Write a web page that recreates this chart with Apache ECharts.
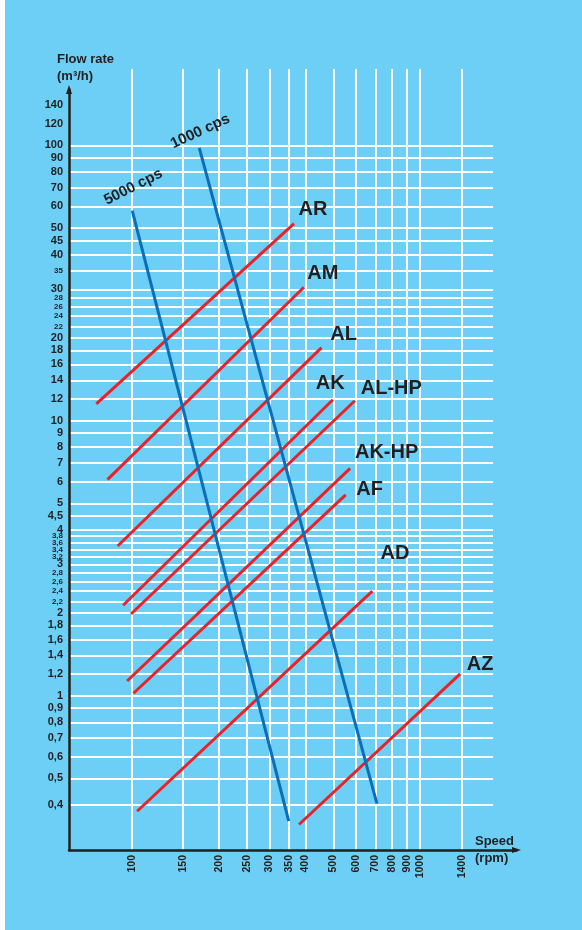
<!DOCTYPE html>
<html>
<head>
<meta charset="utf-8">
<script src="https://cdn.jsdelivr.net/npm/echarts@6/dist/echarts.min.js"></script>
<style>
html,body{margin:0;padding:0;background:#ffffff;}
#c{width:582px;height:930px;background:linear-gradient(to right,#ffffff 0,#ffffff 5px,#6dcff6 5px,#6dcff6 100%);}
</style>
</head>
<body>
<div id="c"></div>
<script>
// ---------- data ----------
const speedTicks = [100, 150, 200, 250, 300, 350, 400, 500, 600, 700, 800, 900, 1000, 1400];
const flowGridTicks = [0.4, 0.5, 0.6, 0.7, 0.8, 0.9, 1, 1.2, 1.4, 1.6, 1.8, 2, 2.2, 2.4, 2.6, 2.8, 3, 3.2, 3.4, 3.6, 3.8, 4, 4.5, 5, 6, 7, 8, 9, 10, 12, 14, 16, 18, 20, 22, 24, 26, 28, 30, 35, 40, 45, 50, 60, 70, 80, 90, 100];
const flowExtraLabels = [120, 140];
const smallFlowLabels = [2.2, 2.4, 2.6, 2.8, 3.2, 3.4, 3.6, 3.8, 22, 24, 26, 28, 35];

// pump curves: [speed rpm, flow m3/h]
const curveAR   = [[75, 11.5], [365, 52]];
const curveAM   = [[82, 6.1], [395, 30.5]];
const curveAL   = [[89, 3.5], [455, 18.4]];
const curveAK   = [[93, 2.13], [498, 11.9]];
const curveALHP = [[99, 1.98], [594, 11.8]];
const curveAKHP = [[96, 1.13], [572, 6.7]];
const curveAF   = [[101, 1.02], [552, 5.37]];
const curveAD   = [[104, 0.38], [683, 2.4]];
const curveAZ   = [[380, 0.34], [1380, 1.2]];

// viscosity limit lines
const visc5000 = [[100, 58], [350, 0.35]];
const visc1000 = [[171, 98], [709, 0.405]];

// ---------- styling ----------
const FONT = '"Liberation Sans", Arial, Helvetica, sans-serif';
const INK = '#231f20';
const RED = '#ea2228';
const BLUE = '#0b6fb8';

const pumpCurves = [
  {name: 'AR', data: curveAR, off: [19, -14]},
  {name: 'AM', data: curveAM, off: [19, -13.5]},
  {name: 'AL', data: curveAL, off: [22, -13]},
  {name: 'AK', data: curveAK, off: [-2.5, -16]},
  {name: 'AL-HP', data: curveALHP, off: [36.5, -12.5]},
  {name: 'AK-HP', data: curveAKHP, off: [36.5, -15.7]},
  {name: 'AF', data: curveAF, off: [24, -5]},
  {name: 'AD', data: curveAD, off: [22.7, -37.8]},
  {name: 'AZ', data: curveAZ, off: [20, -9.5]}
];
const viscLines = [
  {name: '5000 cps', data: visc5000, off: [1, -23.5], rot: 27},
  {name: '1000 cps', data: visc1000, off: [1, -16.5], rot: 25}
];

function fmt(v) { return String(v).replace('.', ','); }
function isSmall(v) { return smallFlowLabels.some(s => Math.abs(s - v) < 1e-6); }
// label offsets are applied in the rotated text frame: convert a screen offset
function localOffset(off, deg) {
  const t = deg * Math.PI / 180, c = Math.cos(t), s = Math.sin(t);
  return [off[0] * c - off[1] * s, off[0] * s + off[1] * c];
}

const series = [];
pumpCurves.forEach(c => {
  series.push({
    type: 'line', name: c.name, xAxisIndex: 0, yAxisIndex: 0,
    data: c.data, symbol: 'none', showSymbol: false, silent: true,
    lineStyle: {color: RED, width: 3, cap: 'butt'},
    markPoint: {
      symbol: 'circle', symbolSize: 1, silent: true,
      itemStyle: {color: 'rgba(0,0,0,0)'},
      label: {show: true, position: 'inside', formatter: c.name, offset: c.off,
              fontSize: 20, fontWeight: 'bold', color: INK, fontFamily: FONT},
      data: [{coord: c.data[c.data.length - 1]}]
    }
  });
});
viscLines.forEach(c => {
  series.push({
    type: 'line', name: c.name, xAxisIndex: 0, yAxisIndex: 0,
    data: c.data, symbol: 'none', showSymbol: false, silent: true,
    lineStyle: {color: BLUE, width: 3, cap: 'butt'},
    markPoint: {
      symbol: 'circle', symbolSize: 1, silent: true,
      itemStyle: {color: 'rgba(0,0,0,0)'},
      label: {show: true, position: 'inside', formatter: c.name,
              offset: localOffset(c.off, c.rot), rotate: c.rot,
              fontSize: 15, fontWeight: 'bold', color: INK, fontFamily: FONT},
      data: [{coord: c.data[0]}]
    }
  });
});

const chart = echarts.init(document.getElementById('c'), null, {renderer: 'canvas'});
chart.setOption({
  backgroundColor: 'transparent',
  animation: false,
  textStyle: {fontFamily: FONT, color: INK},
  grid: [
    {left: 69, right: 89, top: 69, bottom: 80},
    {left: 69, right: 65.5, top: 89.5, bottom: 80}
  ],
  xAxis: [
    {
      type: 'log', gridIndex: 0, min: 60.28, max: 1795,
      axisLine: {show: false},
      axisTick: {show: false, customValues: speedTicks},
      axisLabel: {customValues: speedTicks, rotate: 90, margin: 5, fontSize: 10.5,
                  fontWeight: 'bold', color: INK, fontFamily: FONT,
                  formatter: v => String(Math.round(v))},
      splitLine: {show: true, lineStyle: {color: '#ffffff', width: 2}},
      minorTick: {show: false}, minorSplitLine: {show: false}
    },
    {
      type: 'value', gridIndex: 1, min: 0, max: 1,
      axisLine: {show: true, onZero: false, symbol: ['none', 'triangle'], symbolSize: [6, 9],
                 lineStyle: {color: INK, width: 2.5}},
      axisTick: {show: false}, axisLabel: {show: false}, splitLine: {show: false}
    }
  ],
  yAxis: [
    {
      type: 'log', gridIndex: 0, min: 0.2747, max: 189.6,
      axisLine: {show: false},
      axisTick: {show: false, customValues: flowGridTicks},
      axisLabel: {
        customValues: flowGridTicks.concat(flowExtraLabels), margin: 6,
        formatter: v => isSmall(v) ? '{s|' + fmt(v) + '}' : '{b|' + fmt(v) + '}',
        rich: {
          b: {fontSize: 11, fontWeight: 'bold', color: INK, fontFamily: FONT},
          s: {fontSize: 8, fontWeight: 'bold', color: INK, fontFamily: FONT}
        }
      },
      splitLine: {show: true, lineStyle: {color: '#ffffff', width: 2}},
      minorTick: {show: false}, minorSplitLine: {show: false}
    },
    {
      type: 'value', gridIndex: 1, min: 0, max: 1,
      axisLine: {show: true, onZero: false, symbol: ['none', 'triangle'], symbolSize: [6, 9],
                 lineStyle: {color: INK, width: 2.5}},
      axisTick: {show: false}, axisLabel: {show: false}, splitLine: {show: false}
    }
  ],
  graphic: [
    {type: 'text', silent: true, style: {text: 'Flow rate', x: 57, y: 59.5, verticalAlign: 'middle',
      fill: INK, font: 'bold 13px ' + FONT}},
    {type: 'text', silent: true, style: {text: '(m\u00b3/h)', x: 57, y: 76, verticalAlign: 'middle',
      fill: INK, font: 'bold 13px ' + FONT}},
    {type: 'text', silent: true, style: {text: 'Speed', x: 475, y: 841.5, verticalAlign: 'middle',
      fill: INK, font: 'bold 13px ' + FONT}},
    {type: 'text', silent: true, style: {text: '(rpm)', x: 475, y: 858.5, verticalAlign: 'middle',
      fill: INK, font: 'bold 13px ' + FONT}}
  ],
  series: series
});
</script>
</body>
</html>
